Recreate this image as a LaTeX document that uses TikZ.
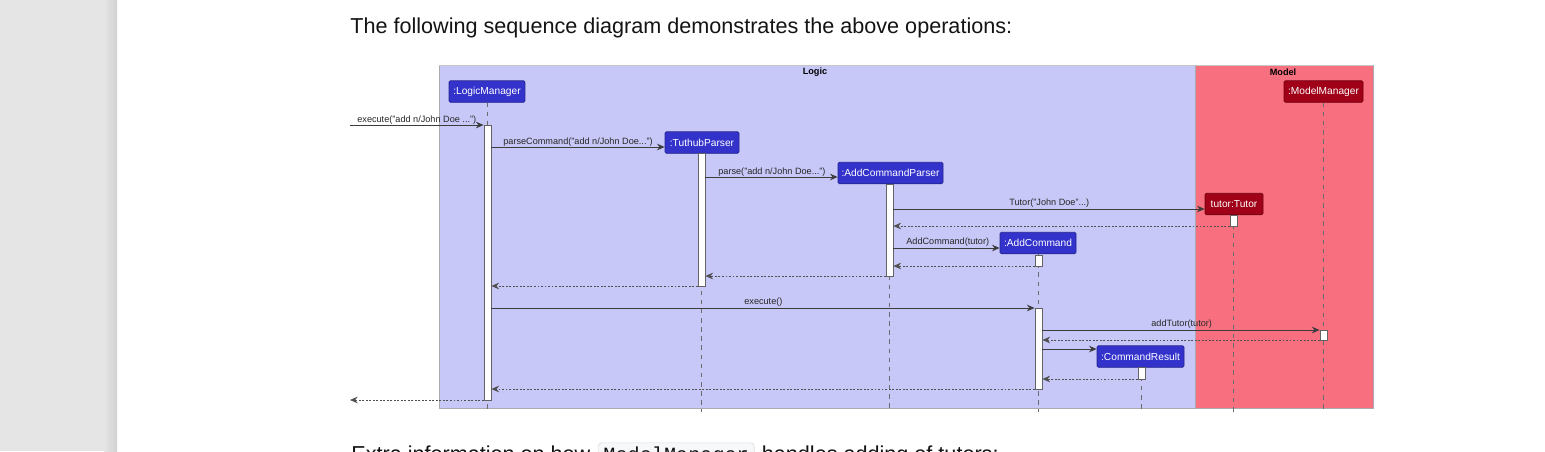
\documentclass[tikz,border=0pt]{standalone}
\usepackage{fontspec}
\setmainfont{Liberation Sans}
\setmonofont{Liberation Mono}
\usetikzlibrary{arrows.meta}
\definecolor{panelgray}{RGB}{229,229,229}
\definecolor{logicbg}{RGB}{200,200,248}
\definecolor{modelbg}{RGB}{248,112,128}
\definecolor{partblue}{RGB}{51,51,204}
\definecolor{partred}{RGB}{160,0,24}
\definecolor{frameline}{RGB}{170,170,176}
\definecolor{msgline}{RGB}{60,60,60}
\definecolor{codebg}{RGB}{246,248,250}
\definecolor{codeborder}{RGB}{220,222,226}
\begin{document}
\begin{tikzpicture}[x=0.02cm,y=-0.02cm,
  part/.style={draw=#1!70!black, fill=#1, text=white, rounded corners=0.8pt,
    minimum height=0.43cm, inner xsep=1pt, inner ysep=0pt, line width=0.4pt,
    font=\fontsize{5.8}{6}\selectfont},
  part/.default=partblue,
  actbar/.style={draw=msgline!80, fill=white, minimum width=0.14cm, inner sep=0pt, line width=0.5pt},
  life/.style={draw=gray!85!black, line width=0.4pt, dash pattern=on 2.6pt off 2.6pt},
  msg/.style={draw=msgline, line width=0.55pt, -{Stealth[length=4.4pt,width=3.8pt,inset=1.5pt]}},
  ret/.style={draw=msgline!90, line width=0.45pt, dash pattern=on 1.1pt off 0.9pt, -{Stealth[length=4.4pt,width=3.8pt,inset=1.5pt]}},
  lbl/.style={anchor=base west, inner sep=0pt, text=black!85, font=\fontsize{5.2}{6}\selectfont},
  ttl/.style={inner sep=0pt, font=\bfseries\fontsize{5.2}{6}\selectfont},
  bodytext/.style={inner sep=0pt, text=black!92, font=\fontsize{12.3}{15}\selectfont}
]
\useasboundingbox (0,0) rectangle (1545,451);
\clip (0,0) rectangle (1545,451);
\fill[white] (0,0) rectangle (1545,451);
% left side panel
\fill[panelgray] (0,0) rectangle (117,451);
\shade[left color=panelgray, right color=black!18] (104,0) rectangle (117,451);

% heading
\node[bodytext, anchor=base west] (head) at (350,33) {The following sequence diagram demonstrates the above operations:};

% frames
\path[fill=logicbg, draw=frameline, line width=0.5pt] (439,65) rectangle (1195,408);
\path[fill=modelbg, draw=frameline, line width=0.5pt] (1195,65) rectangle (1373,408);
\draw[black!22, line width=1pt] (439,65.5) -- (1373,65.5);
\node[ttl] (logicT) at (815,72) {Logic};
\node[ttl] (modelT) at (1283,72) {Model};

% participants
\node[part, minimum width=1.52cm] (lm) at (487,91.5) {:LogicManager};
\node[part, minimum width=1.48cm] (tp) at (702,142.5) {:TuthubParser};
\node[part, minimum width=2.10cm] (acp) at (890.5,173) {:AddCommandParser};
\node[part=partred, minimum width=1.16cm] (tut) at (1234,204) {tutor:Tutor};
\node[part, minimum width=1.52cm] (ac) at (1038,243) {:AddCommand};
\node[part=partred, minimum width=1.58cm] (mm) at (1323.5,91.5) {:ModelManager};
\node[part, minimum width=1.74cm] (cr) at (1140.5,356.5) {:CommandResult};

% lifelines
\coordinate (lmEnd) at (487,412);
\coordinate (tpEnd) at (701,412);
\coordinate (acpEnd) at (889,412);
\coordinate (tutEnd) at (1233,412);
\coordinate (acEnd) at (1038,412);
\coordinate (mmEnd) at (1323,412);
\coordinate (crEnd) at (1141,412);
\draw[life] (lm.south -| lmEnd) -- (lmEnd);
\draw[life] (tp.south -| tpEnd) -- (tpEnd);
\draw[life] (acp.south -| acpEnd) -- (acpEnd);
\draw[life] (tut.south -| tutEnd) -- (tutEnd);
\draw[life] (ac.south -| acEnd) -- (acEnd);
\draw[life] (mm.south -| mmEnd) -- (mmEnd);
\draw[life] (cr.south -| crEnd) -- (crEnd);

% activation bars
\node[actbar, minimum height=5.50cm] (lmA) at (487.5,262.5) {};
\node[actbar, minimum height=2.66cm] (tpA) at (701.5,219.5) {};
\node[actbar, minimum height=1.84cm] (acpA) at (889.5,230) {};
\node[actbar, minimum height=0.22cm] (tutA) at (1233.5,220.5) {};
\node[actbar, minimum height=0.22cm] (acA1) at (1038.5,260.5) {};
\node[actbar, minimum height=0.20cm] (mmA) at (1323.5,335) {};
\node[actbar, minimum height=1.62cm] (acA2) at (1038.5,348.5) {};
\node[actbar, minimum height=0.24cm] (crA) at (1141.5,373) {};

% free ends
\coordinate (inStart) at (350,125);
\coordinate (outEnd) at (350,400);

% messages
\draw[msg] (inStart) -- (lmA.west |- inStart);
\node[lbl] (l1) at (357,122) {execute("add n/John Doe ...")};

\draw[msg] (lmA.east |- 0,147) -- (tp.west |- 0,147);
\node[lbl] (l2) at (503,144) {parseCommand("add n/John Doe...")};

\draw[msg] (tpA.east |- 0,177) -- (acp.west |- 0,177);
\node[lbl] (l3) at (718,174) {parse("add n/John Doe...")};

\draw[msg] (acpA.east |- 0,209) -- (tut.west |- 0,209);
\node[lbl] (l4) at (1009,205) {Tutor("John Doe"...)};

\draw[ret] (tutA.west |- 0,226) -- (acpA.east |- 0,226);

\draw[msg] (acpA.east |- 0,248) -- (ac.west |- 0,248);
\node[lbl] (l6) at (906,244.5) {AddCommand(tutor)};

\draw[ret] (acA1.west |- 0,266) -- (acpA.east |- 0,266);
\draw[ret] (acpA.west |- 0,276) -- (tpA.east |- 0,276);
\draw[ret] (tpA.west |- 0,286) -- (lmA.east |- 0,286);

\draw[msg] (lmA.east |- 0,308) -- (acA2.west |- 0,308);
\node[lbl] (l10) at (744,304) {execute()};

\draw[msg] (acA2.east |- 0,330) -- (mmA.west |- 0,330);
\node[lbl] (l11) at (1151,326) {addTutor(tutor)};

\draw[ret] (mmA.west |- 0,340) -- (acA2.east |- 0,340);
\draw[msg] (acA2.east |- 0,349) -- (cr.west |- 0,349);
\draw[ret] (crA.west |- 0,379) -- (acA2.east |- 0,379);
\draw[ret] (acA2.west |- 0,389) -- (lmA.east |- 0,389);
\draw[ret] (lmA.west |- outEnd) -- (outEnd);

% bottom text (cut off by the page edge, as in the reference)
\node[bodytext, anchor=base west] (b1) at (351,461) {Extra information on how};
\node[bodytext, anchor=base west, fill=codebg, draw=codeborder, rounded corners=2pt,
      inner xsep=3pt, inner ysep=2pt, font=\ttfamily\fontsize{11.5}{14}\selectfont] (b2)
      at ([xshift=4pt]b1.base east) {ModelManager};
\node[bodytext, anchor=base west] (b3) at ([xshift=4pt]b2.base east) {handles adding of tutors:};
\end{tikzpicture}
\end{document}
